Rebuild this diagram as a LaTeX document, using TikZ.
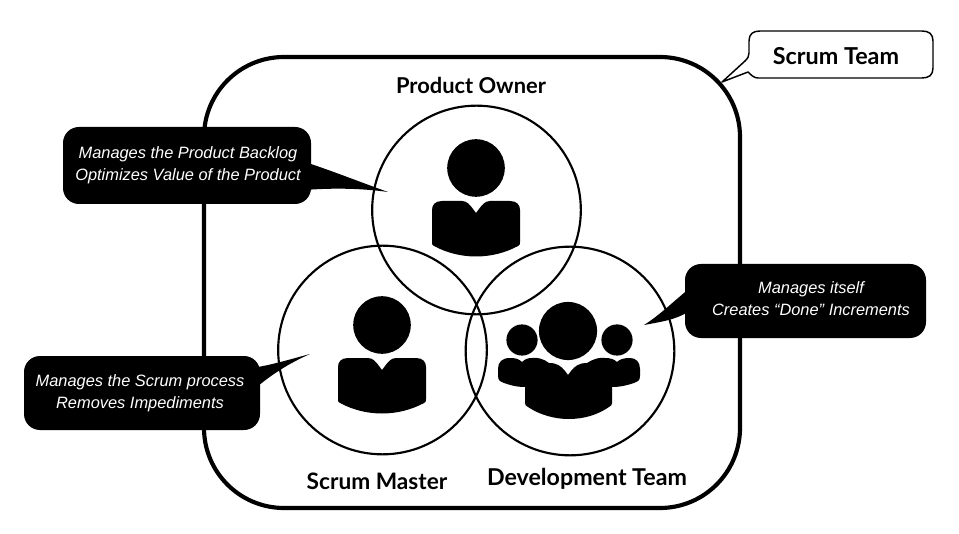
\documentclass[tikz,border=0pt]{standalone}
\usepackage{fontspec}
\setmainfont{Lato}
\newfontfamily\notefont{Liberation Sans}
\begin{document}
\begin{tikzpicture}[x=0.75pt,y=-0.75pt,
  ring/.style={draw=black,line width=1.6pt,fill=none},
  title/.style={font=\bfseries\fontsize{#1}{20}\selectfont,text=black},
  title/.default=17,
  note/.style={font=\notefont\itshape\fontsize{12.3}{16.5}\selectfont,text=white,align=center}]
\useasboundingbox (0,0) rectangle (959,534);

% team frame and the three role circles
\draw[line width=3.1pt,rounded corners=60pt] (204,57) rectangle (740,508);
\node[circle,ring,minimum size=156.5pt,inner sep=0] (po) at (476.5,210) {};
\node[circle,ring,minimum size=156.5pt,inner sep=0] (sm) at (382.5,350) {};
\node[circle,ring,minimum size=156.5pt,inner sep=0] (dt) at (570,351) {};

% single-person icon
\newcommand{\personicon}[2]{%
  \begin{scope}[shift={(#1,#2)}]
    \fill (0,-42) circle (21.6pt);
    \fill (0,3) -- (-3,-1) .. controls (-6,-5) and (-9,-9) .. (-14,-9)
      -- (-34,-9) .. controls (-41,-9) and (-44,-5) .. (-44,0)
      -- (-44,32) .. controls (-44,34) and (-44,35) .. (-42,36)
      .. controls (-16,50) and (16,50) .. (42,36)
      .. controls (44,35) and (44,34) .. (44,32)
      -- (44,0) .. controls (44,-5) and (41,-9) .. (34,-9)
      -- (14,-9) .. controls (9,-9) and (6,-5) .. (3,-1) -- cycle;
  \end{scope}}
\personicon{476}{210}
\personicon{382}{367}

% three-person icon
\fill (568,331) circle (21.8pt);
\fill (522,340) circle (11.7pt);
\fill (617,340) circle (11.7pt);
\fill (568,375) -- (565,371) .. controls (561,366) and (557,363) .. (549,363)
  .. controls (544,359) and (537,357) .. (532,358)
  .. controls (528,358) and (525,359) .. (522,362)
  .. controls (519,359) and (516,358) .. (510,358)
  .. controls (502,358) and (498,362) .. (498,369)
  -- (498,376) .. controls (498,381) and (501,382) .. (504,383)
  .. controls (510,385) and (516,387) .. (525,387)
  -- (525,403) .. controls (525,405) and (526,406) .. (528,407)
  .. controls (552,423) and (586,423) .. (609,407)
  .. controls (611,406) and (612,405) .. (612,403)
  -- (612,387) .. controls (621,387) and (628,385) .. (634,383)
  .. controls (637,382) and (640,381) .. (640,376)
  -- (640,369) .. controls (640,362) and (636,358) .. (630,358)
  .. controls (624,358) and (620,359) .. (617,362)
  .. controls (614,359) and (610,358) .. (605,358)
  .. controls (600,357) and (593,359) .. (587,363)
  .. controls (579,363) and (575,366) .. (571,371) -- cycle;

% speech bubbles
\coordinate (pt1) at (388,192);
\coordinate (pt2) at (310,354);
\coordinate (pt3) at (644,325);
\coordinate (pt4) at (722,82);
\fill[rounded corners=12pt] (63,127) rectangle (311,204);
\fill (308,163) .. controls (335,172) and (360,182) .. (pt1)
  .. controls (360,188) and (330,188) .. (305,190) -- cycle;
\fill[rounded corners=12pt] (24,356) rectangle (260,430);
\fill (258,367) .. controls (275,364) and (295,358) .. (pt2)
  .. controls (292,362) and (275,372) .. (258,386) -- cycle;
\fill[rounded corners=12pt] (685,264) rectangle (926,338);
\fill (690,288) .. controls (675,300) and (660,315) .. (pt3)
  .. controls (660,322) and (675,320) .. (688,312) -- cycle;
\draw[line width=1.1pt,fill=white,line join=round]
  (760,31) -- (922,31) .. controls (929,31) and (933,34) .. (933,41)
  -- (933,68) .. controls (933,75) and (929,78) .. (922,78)
  -- (758,78) .. controls (754,78) and (751,75) .. (748,72)
  -- (pt4) -- (745,61) .. controls (748,58) and (749,56) .. (749,53)
  -- (749,41) .. controls (749,34) and (753,31) .. (760,31) -- cycle;

% texts
\node[title=16.4] (t1) at (471,85) {Product Owner};
\node[title] (t2) at (377,481) {Scrum Master};
\node[title=17.4] (t3) at (587,479) {Development Team};
\node[title=17.5] (t4) at (836,56) {Scrum Team};
\node[note] (n1) at (188,165.5) {Manages the Product Backlog\\Optimizes Value of the Product};
\node[note] (n2) at (140,393.5) {Manages the Scrum process\\Removes Impediments};
\node[note] (n3) at (811,299) {Manages itself\\Creates “Done” Increments};
\end{tikzpicture}
\end{document}
